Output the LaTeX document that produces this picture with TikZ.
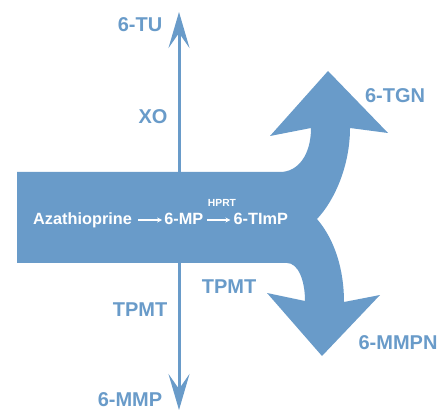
\documentclass[tikz,border=0pt]{standalone}
\usepackage{fontspec}
\setmainfont{Liberation Sans}
\usetikzlibrary{arrows.meta, positioning}
\definecolor{pathblue}{RGB}{105,155,201}
\tikzset{
  lbl/.style={text=pathblue, font=\fontsize{20}{24}\selectfont\bfseries, inner sep=0pt},
  drug/.style={text=white, font=\fontsize{16.3}{19}\selectfont\bfseries, inner sep=0pt, anchor=base west},
  flow/.style={white, line width=1.3pt, -{Stealth[length=5pt,width=5pt]}},
}

\begin{document}
\begin{tikzpicture}[x=1pt, y=-1pt]
  \useasboundingbox (0,0) rectangle (441,411);
  % band splitting into the two bent arrows
  \fill[pathblue] (17,172) -- (280,172) .. controls (298,172) and (311,155) .. (311,128)
    -- (270,136) -- (328,71) -- (388,133) -- (350,128)
    .. controls (350,165) and (335,200) .. (317,219)
    .. controls (335,240) and (344,270) .. (344,302)
    -- (380,295) -- (322,356) -- (267,293) -- (305,301)
    .. controls (305,280) and (298,263) .. (287,263)
    -- (17,263) -- cycle;
  \coordinate (top) at (179,12);
  \coordinate (bot) at (179,410);
  \draw[pathblue, line width=3pt,
    {Stealth[length=36pt,width=21pt,inset=15pt]}-{Stealth[length=36pt,width=21pt,inset=15pt]}]
    (bot) -- (top);
  \node[lbl] (tu) at (140,25) {6-TU};
  \node[lbl] (xo) at (153,117) {XO};
  \node[lbl] (tpmtl) at (140,310) {TPMT};
  \node[lbl] (mmp) at (130,400) {6-MMP};
  \node[lbl] (tpmtr) at (229,287) {TPMT};
  \node[lbl] (tgn) at (395,96) {6-TGN};
  \node[lbl] (mmpn) at (398,343) {6-MMPN};
  % inside the band
  \node[drug] (aza) at (33,225) {Azathioprine};
  \node[drug, base right=32pt of aza] (mp) {6-MP};
  \node[drug, base right=30pt of mp] (timp) {6-TImP};
  \node[drug, anchor=center, font=\fontsize{10.3}{12}\selectfont\bfseries] (hprt) at (222,202.5) {HPRT};
  \draw[flow, shorten <=6pt, shorten >=2pt] ([yshift=5pt]aza.base east) -- ([yshift=5pt]mp.base west);
  \draw[flow, shorten <=4pt, shorten >=3pt] ([yshift=5pt]mp.base east) -- ([yshift=5pt]timp.base west);
\end{tikzpicture}
\end{document}
